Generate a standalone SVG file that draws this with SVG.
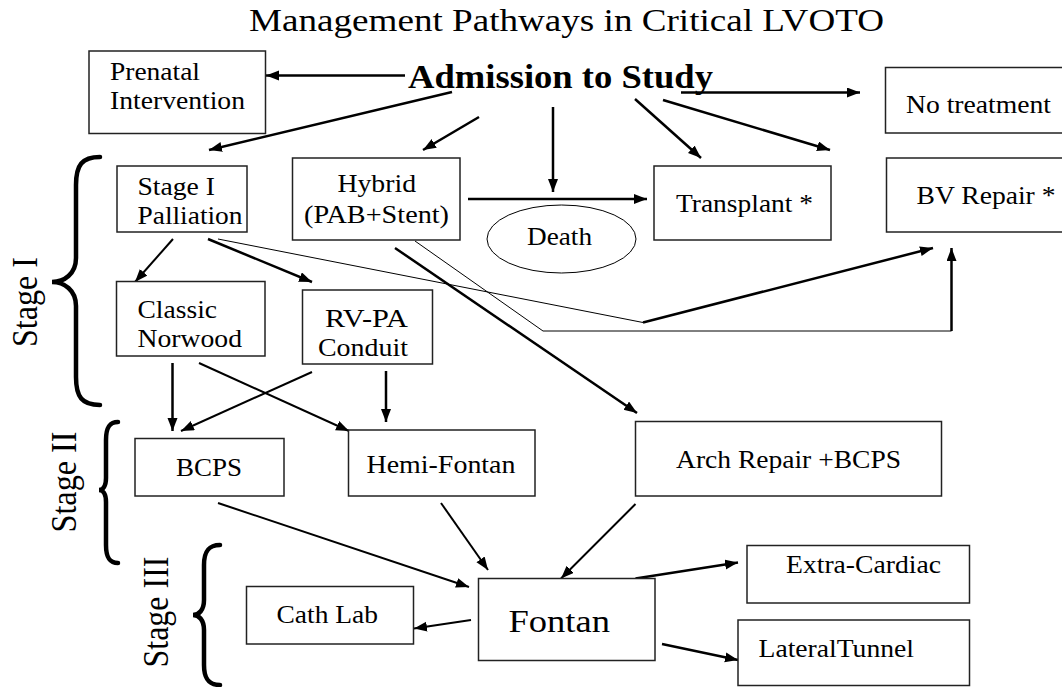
<svg xmlns="http://www.w3.org/2000/svg" width="1062" height="687" viewBox="0 0 1062 687" font-family="'Liberation Serif', 'Times New Roman', Times, serif">
<style>
  text { font-family: 'Liberation Serif', 'Times New Roman', Times, serif; fill: #000; }
  .t { font-size: 25px; }
  .box { fill: #fff; stroke: #222; stroke-width: 1.5; }
  .c { fill: none; stroke: #000; stroke-width: 2.5; }
  .cm { fill: none; stroke: #000; stroke-width: 2; }
  .thin { fill: none; stroke: #000; stroke-width: 1; }
  .brace { fill: none; stroke: #000; stroke-width: 4.5; stroke-linecap: round; }
  .stage { font-size: 32px; }
</style>
<defs>
  <marker id="ah" markerUnits="userSpaceOnUse" markerWidth="14" markerHeight="12" refX="13" refY="5" orient="auto">
    <path d="M0,0 L13,5 L0,10 Z" fill="#000"/>
  </marker>
</defs>
<rect width="1062" height="687" fill="#fff"/>

<text x="249" y="31" font-size="32" textLength="635" lengthAdjust="spacingAndGlyphs">Management Pathways in Critical LVOTO</text>

<g id="stage-labels">
  <path class="brace" d="M100,157 C82,157 76,165 76,185 L76,258 C76,274 64,282 52,282 C64,282 76,290 76,306 L76,377 C76,397 82,405 100,405"/>
  <path class="brace" d="M118,422 C109,422 106,428 106,440 L106,478 C106,486 103,490 99,490 C103,490 106,494 106,502 L106,545 C106,557 109,563 118,563"/>
  <path class="brace" d="M220,545 C208,545 204,552 204,565 L204,600 C204,610 199,615 193,615 C199,615 204,620 204,630 L204,665 C204,678 208,685 220,685"/>
  <text class="stage" text-anchor="middle" transform="translate(37,302) scale(1.12,1) rotate(-90)" textLength="90" lengthAdjust="spacingAndGlyphs">Stage I</text>
  <text class="stage" text-anchor="middle" transform="translate(76,482) scale(1.12,1) rotate(-90)" textLength="101" lengthAdjust="spacingAndGlyphs">Stage II</text>
  <text class="stage" text-anchor="middle" transform="translate(168,612) scale(1.12,1) rotate(-90)" textLength="111" lengthAdjust="spacingAndGlyphs">Stage III</text>
</g>

<g id="connectors">
  <line class="c" x1="405" y1="75.5" x2="266" y2="75.5" marker-end="url(#ah)"/>
  <line class="c" x1="452" y1="92" x2="209" y2="150" marker-end="url(#ah)"/>
  <line class="c" x1="479" y1="117" x2="423" y2="150" marker-end="url(#ah)"/>
  <line class="c" x1="553" y1="107" x2="553" y2="192" marker-end="url(#ah)"/>
  <line class="c" x1="635" y1="99" x2="701" y2="158" marker-end="url(#ah)"/>
  <line class="c" x1="663" y1="100" x2="830" y2="150" marker-end="url(#ah)"/>
  <line class="c" x1="681" y1="92.5" x2="860" y2="92.5" marker-end="url(#ah)"/>
  <line class="c" x1="468" y1="199" x2="647" y2="199" marker-end="url(#ah)"/>
  <polyline class="thin" points="218,239 643,322.5"/>
  <line class="c" x1="643" y1="322.5" x2="933" y2="248" marker-end="url(#ah)"/>
  <polyline class="thin" points="415,241 543,331 951.5,331"/>
  <line class="c" x1="951.5" y1="331" x2="951.5" y2="248" marker-end="url(#ah)"/>
  <line class="c" x1="395" y1="248" x2="637" y2="413" marker-end="url(#ah)"/>
  <line class="cm" x1="173" y1="239" x2="135" y2="282" marker-end="url(#ah)"/>
  <line class="c" x1="208" y1="239" x2="312" y2="282" marker-end="url(#ah)"/>
  <line class="c" x1="172.5" y1="363" x2="172.5" y2="431" marker-end="url(#ah)"/>
  <line class="cm" x1="199" y1="363" x2="349" y2="431" marker-end="url(#ah)"/>
  <line class="cm" x1="312" y1="372" x2="181" y2="431" marker-end="url(#ah)"/>
  <line class="c" x1="386" y1="371" x2="386" y2="422" marker-end="url(#ah)"/>
  <line class="cm" x1="218" y1="503" x2="469" y2="587" marker-end="url(#ah)"/>
  <line class="cm" x1="441" y1="503" x2="488" y2="570" marker-end="url(#ah)"/>
  <line class="cm" x1="635.5" y1="504" x2="561" y2="578.5" marker-end="url(#ah)"/>
  <line class="cm" x1="471" y1="620" x2="414" y2="628.5" marker-end="url(#ah)"/>
  <line class="c" x1="635.5" y1="578.5" x2="738" y2="562.5" marker-end="url(#ah)"/>
  <line class="c" x1="662" y1="644" x2="738" y2="660" marker-end="url(#ah)"/>
</g>

<g id="admission">
  <text x="408" y="87.5" font-size="33" font-weight="bold" textLength="305" lengthAdjust="spacingAndGlyphs">Admission to Study</text>
</g>

<g id="prenatal">
  <rect class="box" x="89" y="51" width="176.5" height="82.5"/>
  <text class="t" x="110" y="80" textLength="90" lengthAdjust="spacingAndGlyphs">Prenatal</text>
  <text class="t" x="110" y="109" textLength="135" lengthAdjust="spacingAndGlyphs">Intervention</text>
</g>

<g id="no-treatment">
  <rect class="box" x="885.5" y="67.5" width="190" height="65.5"/>
  <text class="t" x="906" y="112.5" textLength="145" lengthAdjust="spacingAndGlyphs">No treatment</text>
</g>

<g id="bv-repair">
  <rect class="box" x="886.5" y="158" width="190" height="74"/>
  <text class="t" x="916.5" y="203.5" textLength="139" lengthAdjust="spacingAndGlyphs">BV Repair *</text>
</g>

<g id="transplant">
  <rect class="box" x="654" y="166" width="177" height="74"/>
  <text class="t" x="676" y="211.5" textLength="137" lengthAdjust="spacingAndGlyphs">Transplant *</text>
</g>

<g id="death">
  <ellipse cx="561.5" cy="239" rx="74.5" ry="34" fill="#fff" stroke="#000" stroke-width="1"/>
  <text class="t" x="527" y="245" textLength="65" lengthAdjust="spacingAndGlyphs">Death</text>
</g>

<g id="stage1-palliation">
  <rect class="box" x="117" y="166" width="130" height="66"/>
  <text class="t" x="137.5" y="195" textLength="77.5" lengthAdjust="spacingAndGlyphs">Stage I</text>
  <text class="t" x="137.5" y="224" textLength="105" lengthAdjust="spacingAndGlyphs">Palliation</text>
</g>

<g id="hybrid">
  <rect class="box" x="292.5" y="158" width="167.5" height="82"/>
  <text class="t" x="337.5" y="191.5" textLength="78.5" lengthAdjust="spacingAndGlyphs">Hybrid</text>
  <text class="t" x="304" y="223" textLength="145" lengthAdjust="spacingAndGlyphs">(PAB+Stent)</text>
</g>

<g id="classic-norwood">
  <rect class="box" x="116.5" y="281.5" width="148.5" height="74.5"/>
  <text class="t" x="137.5" y="318" textLength="79.5" lengthAdjust="spacingAndGlyphs">Classic</text>
  <text class="t" x="137.5" y="347" textLength="104.5" lengthAdjust="spacingAndGlyphs">Norwood</text>
</g>

<g id="rv-pa-conduit">
  <rect class="box" x="302.5" y="290" width="130" height="74"/>
  <text class="t" x="325" y="326.5" textLength="83" lengthAdjust="spacingAndGlyphs">RV-PA</text>
  <text class="t" x="318" y="356" textLength="90" lengthAdjust="spacingAndGlyphs">Conduit</text>
</g>

<g id="bcps">
  <rect class="box" x="135" y="438.5" width="149" height="57.5"/>
  <text class="t" x="176" y="476" textLength="66" lengthAdjust="spacingAndGlyphs">BCPS</text>
</g>

<g id="hemi-fontan">
  <rect class="box" x="348.5" y="430" width="186.5" height="66"/>
  <text class="t" x="366.5" y="472.5" textLength="149" lengthAdjust="spacingAndGlyphs">Hemi-Fontan</text>
</g>

<g id="arch-repair">
  <rect class="box" x="635.5" y="421.5" width="306" height="74.5"/>
  <text class="t" x="676" y="468" textLength="225" lengthAdjust="spacingAndGlyphs">Arch Repair +BCPS</text>
</g>

<g id="fontan">
  <rect class="box" x="478.5" y="578.5" width="176.5" height="82"/>
  <text x="508.5" y="631.5" font-size="32" textLength="101.5" lengthAdjust="spacingAndGlyphs">Fontan</text>
</g>

<g id="cath-lab">
  <rect class="box" x="246.5" y="586.5" width="167" height="57.5"/>
  <text class="t" x="276.5" y="623" textLength="101.5" lengthAdjust="spacingAndGlyphs">Cath Lab</text>
</g>

<g id="extra-cardiac">
  <rect class="box" x="747" y="545.5" width="222.5" height="57.5"/>
  <text class="t" x="786" y="573" textLength="155" lengthAdjust="spacingAndGlyphs">Extra-Cardiac</text>
</g>

<g id="lateral-tunnel">
  <rect class="box" x="738" y="620" width="231.5" height="65.5"/>
  <text class="t" x="758.5" y="656.5" textLength="155.5" lengthAdjust="spacingAndGlyphs">LateralTunnel</text>
</g>
</svg>
